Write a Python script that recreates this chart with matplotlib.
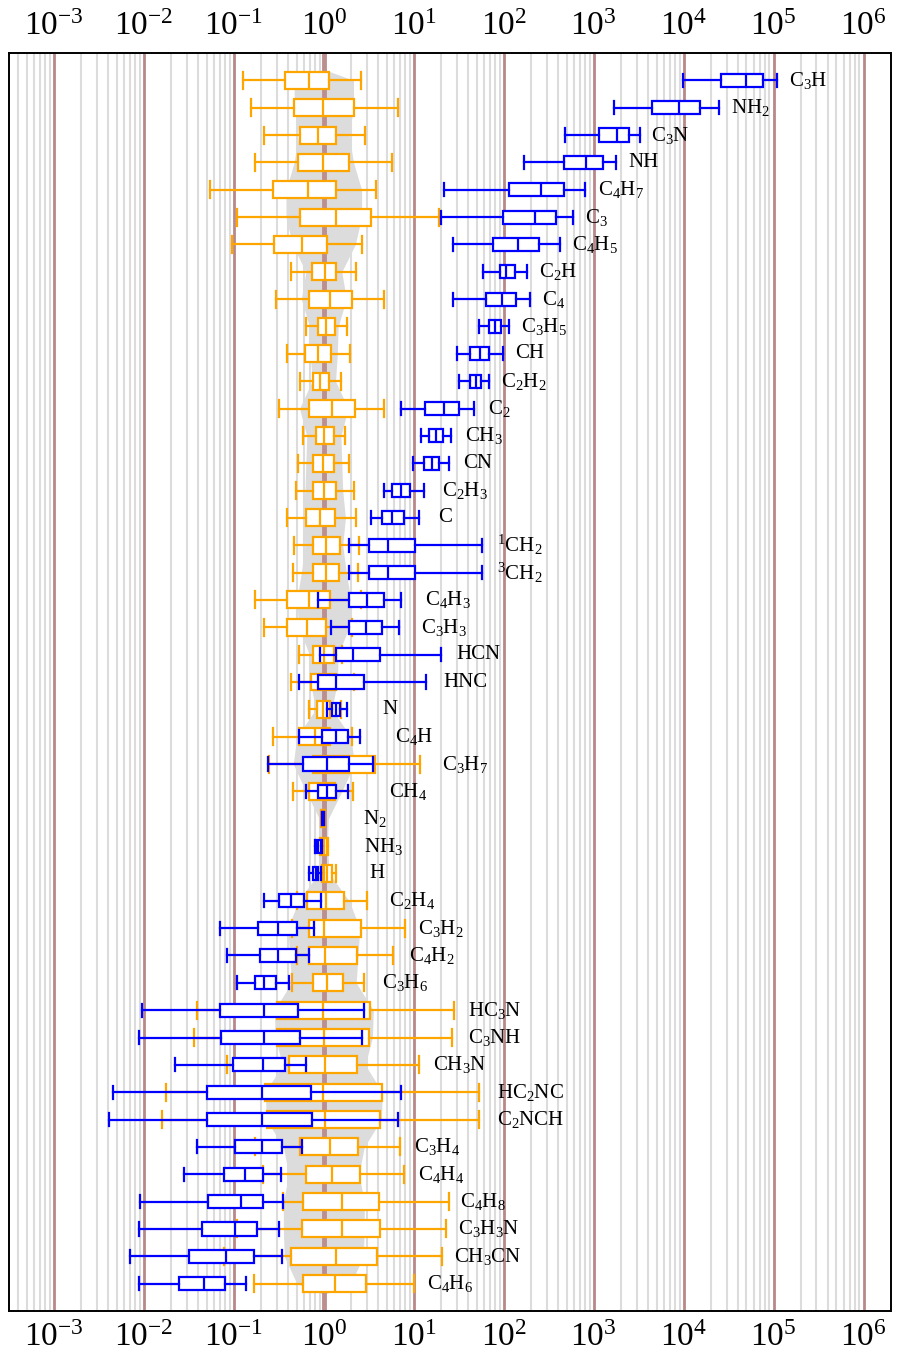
import numpy as np
import matplotlib
matplotlib.use("Agg")
import matplotlib.pyplot as plt
from matplotlib.ticker import FixedLocator, LogLocator, NullFormatter

plt.rcParams['font.family'] = ['Liberation Serif', 'DejaVu Serif']
plt.rcParams['mathtext.fontset'] = 'custom'
plt.rcParams['mathtext.rm'] = 'Liberation Serif'
plt.rcParams['mathtext.it'] = 'Liberation Serif:italic'
plt.rcParams['mathtext.default'] = 'regular'
plt.rcParams['axes.unicode_minus'] = False

species = ['C$_3$H', 'NH$_2$', 'C$_3$N', 'NH', 'C$_4$H$_7$', 'C$_3$', 'C$_4$H$_5$',
           'C$_2$H', 'C$_4$', 'C$_3$H$_5$', 'CH', 'C$_2$H$_2$', 'C$_2$', 'CH$_3$', 'CN',
           'C$_2$H$_3$', 'C', '$^1$CH$_2$', '$^3$CH$_2$', 'C$_4$H$_3$', 'C$_3$H$_3$',
           'HCN', 'HNC', 'N', 'C$_4$H', 'C$_3$H$_7$', 'CH$_4$', 'N$_2$', 'NH$_3$', 'H',
           'C$_2$H$_4$', 'C$_3$H$_2$', 'C$_4$H$_2$', 'C$_3$H$_6$', 'HC$_3$N', 'C$_3$NH',
           'CH$_3$N', 'HC$_2$NC', 'C$_2$NCH', 'C$_3$H$_4$', 'C$_4$H$_4$', 'C$_4$H$_8$',
           'C$_3$H$_3$N', 'CH$_3$CN', 'C$_4$H$_6$']

# log10 of whisker low, q1, median, q3, whisker high -- orange set
orange_lo = [-0.90, -0.81, -0.67, -0.76, -1.26, -0.97, -1.02, -0.36, -0.53, -0.20, -0.41, -0.27,
             -0.50, -0.23, -0.29, -0.31, -0.41, -0.33, -0.34, -0.77, -0.67, -0.28, -0.36, -0.17,
             -0.56, -0.61, -0.34, -0.03, -0.04, -0.02, -0.30, -0.35, -0.30, -0.35, -1.41, -1.44,
             -1.08, -1.76, -1.80, -0.76, -0.68, -0.45, -0.97, -1.11, -0.78]
orange_q1 = [-0.43, -0.33, -0.27, -0.29, -0.56, -0.26, -0.55, -0.13, -0.17, -0.06, -0.21, -0.12,
             -0.16, -0.09, -0.12, -0.12, -0.20, -0.12, -0.12, -0.41, -0.41, -0.12, -0.14, -0.08,
             -0.28, -0.12, -0.16, -0.03, -0.03, 0.00, -0.19, -0.17, -0.16, -0.12, -0.52, -0.52,
             -0.39, -0.65, -0.63, -0.27, -0.20, -0.23, -0.24, -0.37, -0.23]
orange_med = [-0.17, -0.01, -0.06, -0.01, -0.18, 0.14, -0.24, 0.01, 0.07, 0.02, -0.06, -0.04,
              0.09, 0.00, -0.01, 0.00, -0.04, 0.02, 0.02, -0.16, -0.19, 0.00, 0.00, -0.01,
              -0.10, 0.00, 0.00, -0.01, 0.00, 0.04, 0.02, 0.00, 0.01, 0.04, -0.01, 0.00,
              0.01, -0.01, 0.01, 0.07, 0.09, 0.20, 0.20, 0.13, 0.12]
orange_q3 = [0.06, 0.33, 0.14, 0.28, 0.13, 0.52, 0.03, 0.14, 0.31, 0.12, 0.08, 0.06,
             0.35, 0.11, 0.11, 0.13, 0.12, 0.18, 0.17, 0.07, 0.02, 0.11, 0.14, 0.07,
             0.07, 0.57, 0.12, 0.01, 0.03, 0.09, 0.22, 0.41, 0.37, 0.21, 0.51, 0.50,
             0.37, 0.65, 0.63, 0.38, 0.40, 0.61, 0.62, 0.59, 0.47]
orange_hi = [0.41, 0.82, 0.46, 0.76, 0.58, 1.28, 0.43, 0.36, 0.67, 0.26, 0.29, 0.19,
             0.67, 0.23, 0.28, 0.33, 0.36, 0.39, 0.38, 0.41, 0.31, 0.20, 0.33, 0.19,
             0.31, 1.07, 0.32, 0.01, 0.05, 0.14, 0.48, 0.90, 0.77, 0.45, 1.45, 1.43,
             1.06, 1.73, 1.73, 0.85, 0.89, 1.39, 1.36, 1.31, 1.00]

# log10 of whisker low, q1, median, q3, whisker high -- blue set
blue_lo = [3.99, 3.23, 2.68, 2.22, 1.34, 1.30, 1.44, 1.77, 1.44, 1.73, 1.48, 1.50,
           0.86, 1.08, 0.99, 0.67, 0.53, 0.28, 0.28, -0.07, 0.08, -0.04, -0.28, 0.03,
           -0.28, -0.62, -0.20, -0.025, -0.10, -0.16, -0.67, -1.15, -1.08, -0.96, -2.02, -2.06,
           -1.65, -2.34, -2.39, -1.41, -1.55, -2.04, -2.05, -2.16, -2.06]
blue_q1 = [4.42, 3.65, 3.06, 2.67, 2.06, 1.99, 1.88, 1.96, 1.80, 1.84, 1.63, 1.63,
           1.12, 1.17, 1.11, 0.76, 0.65, 0.50, 0.50, 0.28, 0.28, 0.14, -0.06, 0.09,
           -0.02, -0.23, -0.06, -0.02, -0.09, -0.12, -0.50, -0.73, -0.71, -0.77, -1.15, -1.14,
           -1.01, -1.30, -1.30, -0.99, -1.11, -1.29, -1.35, -1.50, -1.61]
blue_med = [4.69, 3.95, 3.26, 2.92, 2.41, 2.35, 2.16, 2.03, 1.98, 1.90, 1.74, 1.69,
            1.34, 1.25, 1.20, 0.86, 0.76, 0.71, 0.71, 0.48, 0.47, 0.32, 0.14, 0.13,
            0.13, 0.04, 0.03, -0.01, -0.06, -0.09, -0.36, -0.51, -0.51, -0.66, -0.67, -0.67,
            -0.68, -0.69, -0.69, -0.69, -0.88, -0.92, -0.99, -1.09, -1.33]
blue_q3 = [4.88, 4.18, 3.39, 3.10, 2.67, 2.58, 2.39, 2.12, 2.14, 1.97, 1.84, 1.75,
           1.50, 1.33, 1.28, 0.96, 0.89, 1.01, 1.01, 0.67, 0.65, 0.63, 0.45, 0.18,
           0.27, 0.28, 0.13, 0.00, -0.03, -0.06, -0.22, -0.30, -0.31, -0.53, -0.29, -0.27,
           -0.43, -0.14, -0.13, -0.47, -0.68, -0.68, -0.74, -0.78, -1.10]
blue_hi = [5.04, 4.39, 3.52, 3.25, 2.90, 2.77, 2.63, 2.26, 2.29, 2.06, 1.99, 1.84,
           1.67, 1.41, 1.39, 1.11, 1.06, 1.76, 1.76, 0.86, 0.84, 1.30, 1.14, 0.26,
           0.40, 0.55, 0.27, 0.005, -0.02, -0.03, -0.03, -0.11, -0.17, -0.39, 0.45, 0.42,
           -0.20, 0.86, 0.82, -0.24, -0.48, -0.45, -0.50, -0.47, -0.87]

# half width (decades) of the grey band around 1
band = [0.33, 0.33, 0.28, 0.33, 0.42, 0.42, 0.35, 0.20, 0.25, 0.16, 0.15, 0.13,
        0.27, 0.19, 0.20, 0.21, 0.24, 0.21, 0.25, 0.30, 0.28, 0.16, 0.15, 0.09,
        0.30, 0.34, 0.20, 0.05, 0.04, 0.06, 0.28, 0.40, 0.38, 0.36, 0.55, 0.54,
        0.46, 0.65, 0.64, 0.45, 0.39, 0.45, 0.45, 0.44, 0.30]

# gap (pixels) between the rightmost cap and the label
label_gap = [12, 12, 11, 12, 13, 12, 12, 12, 12, 12, 12, 12, 14, 14, 14, 18, 19, 15, 15,
             24, 22, 16, 17, 35, 35, 22, 36, 38, 36, 33, 22, 13, 16, 18, 14, 16, 14, 18,
             18, 14, 14, 11, 12, 12, 13]

decades = [-3, -2, -1, 0, 1, 2, 3, 4, 5, 6]

n = len(species)
rows = np.arange(n)

fig = plt.figure(figsize=(8.99, 13.65), dpi=100)
ax = fig.add_axes([9 / 899, 1 - 1311 / 1365, 881.5 / 899, (1311 - 53) / 1365])

# grey band
by = np.r_[-0.4, rows, n - 0.6]
bw = np.r_[0.0, band, 0.0]
ax.fill_betweenx(by, 10 ** (-bw), 10 ** bw, color='#dcdcdc', lw=0, zorder=1)
ax.axvline(1, color='#bc8f8f', lw=3.5, zorder=1.5)


def stats(lo, q1, med, q3, hi):
    out = []
    for a, b, c, d, e in zip(lo, q1, med, q3, hi):
        out.append(dict(whislo=10 ** a, q1=10 ** b, med=10 ** c, q3=10 ** d, whishi=10 ** e,
                        fliers=[]))
    return out


def draw(st, color, width, z):
    lp = dict(color=color, linewidth=1.6, zorder=z)
    ax.bxp(st, positions=rows, widths=width, capwidths=width, orientation='horizontal',
           patch_artist=True, showfliers=False, manage_ticks=False,
           boxprops=dict(facecolor='white', edgecolor=color, linewidth=1.6, zorder=z),
           medianprops=lp, whiskerprops=lp, capprops=lp)


draw(stats(orange_lo, orange_q1, orange_med, orange_q3, orange_hi), 'orange', 0.62, 3)
draw(stats(blue_lo, blue_q1, blue_med, blue_q3, blue_hi), 'blue', 0.48, 4)

for i, name in enumerate(species):
    xr = 10 ** max(orange_hi[i], blue_hi[i])
    ax.annotate(name, xy=(xr, i), xytext=(label_gap[i] * 0.72, 0), textcoords='offset points',
                ha='left', va='center', fontsize=15, zorder=5)

ax.set_xscale('log')
ax.set_xlim(10 ** -3.5, 10 ** 6.3)
ax.set_ylim(n, -1)
ax.set_yticks([])
ax.xaxis.set_major_locator(FixedLocator([10.0 ** d for d in decades]))
ax.xaxis.set_major_formatter(plt.FuncFormatter(lambda v, p: '$10^{%d}$' % round(np.log10(v))))
ax.xaxis.set_minor_locator(LogLocator(base=10, subs=np.arange(2, 10), numticks=20))
ax.xaxis.set_minor_formatter(NullFormatter())
ax.xaxis.set_ticks_position('both')
ax.tick_params(axis='x', which='both', length=0, labeltop=True, labelbottom=True,
               labelsize=24, pad=8)
ax.grid(which='minor', axis='x', color='#dcdcdc', lw=1.5, zorder=0)
ax.grid(which='major', axis='x', color='#b88888', lw=2, zorder=0)
ax.set_axisbelow(True)
for s in ax.spines.values():
    s.set_linewidth(1.4)
    s.set_zorder(6)

fig.savefig('out.png', dpi=100)
